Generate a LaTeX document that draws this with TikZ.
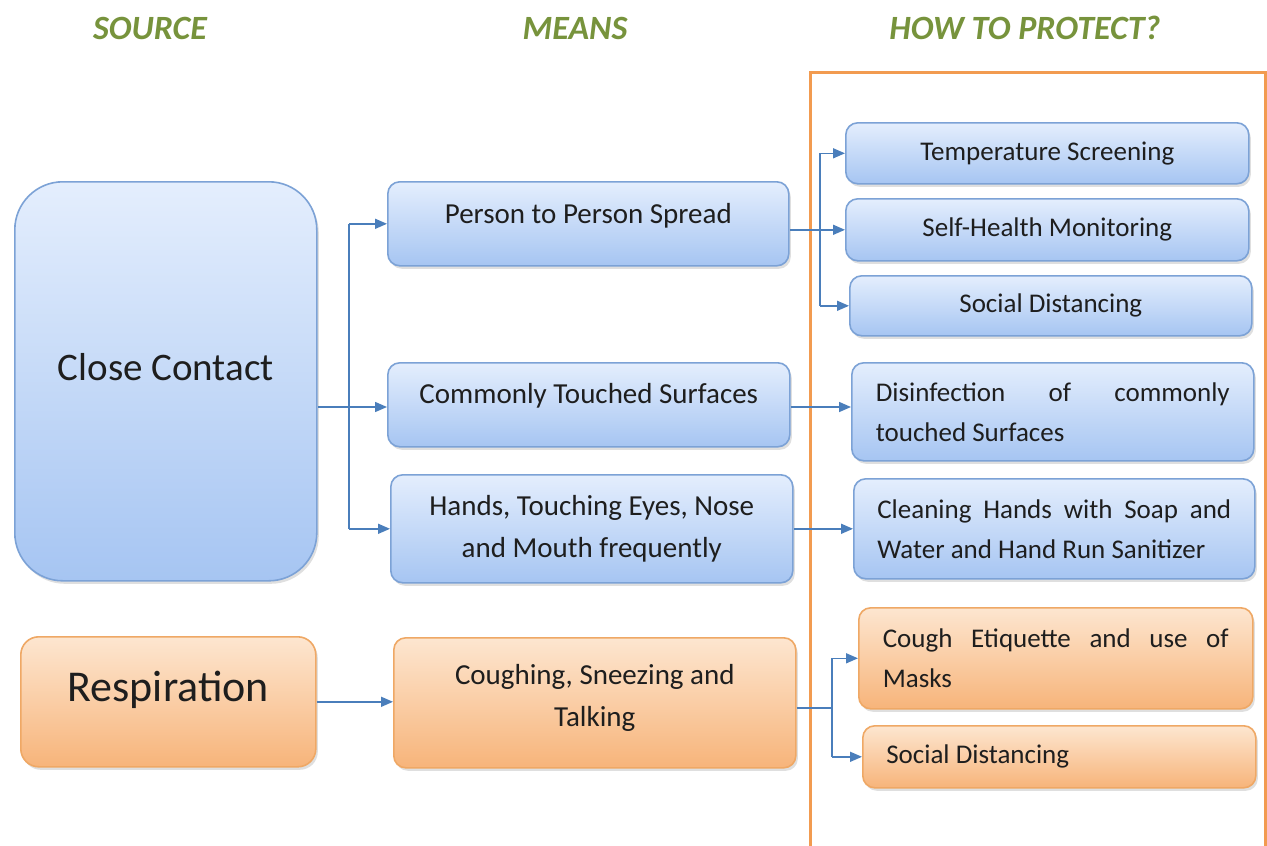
\documentclass[tikz,border=0pt]{standalone}
\usepackage{fontspec}
\setmainfont{Carlito}
\usetikzlibrary{arrows.meta,shadows,calc}
\definecolor{hdr}{HTML}{77933C}
\definecolor{bluetop}{HTML}{E4EEFD}
\definecolor{bluebot}{HTML}{A6C5F2}
\definecolor{blueline}{HTML}{7CA2D6}
\definecolor{ortop}{HTML}{FDE6D0}
\definecolor{orbot}{HTML}{F7B47A}
\definecolor{orline}{HTML}{EFA865}
\definecolor{frame}{HTML}{F29B50}
\definecolor{conncol}{HTML}{4A7EBB}
\definecolor{txt}{HTML}{1E1E1E}
\tikzset{
  hdrtext/.style={font=\fontsize{34}{38}\selectfont\bfseries\itshape, text=hdr},
  basebox/.style={draw, line width=1.6pt, rounded corners=12pt, anchor=north west,
    text=txt, align=center, inner sep=0pt,
    drop shadow={opacity=0.25, shadow xshift=2pt, shadow yshift=-3pt}},
  bluebox/.style={basebox, draw=blueline, top color=bluetop, bottom color=bluebot},
  orbox/.style={basebox, draw=orline, top color=ortop, bottom color=orbot},
  mtext/.style={font=\fontsize{29}{42}\selectfont},
  ptext/.style={font=\fontsize{27}{40}\selectfont},
  conn/.style={draw=conncol, line width=1.5pt, -{Triangle[length=12pt,width=10pt]}},
  plain/.style={draw=conncol, line width=1.5pt},
}
\newcommand{\jbox}[2]{\parbox{#1}{\fontsize{27}{40}\selectfont #2}}
\newcommand{\up}[2]{\raisebox{#1}[\height][\depth]{#2}}
\begin{document}
\begin{tikzpicture}[x=1pt,y=-1pt]
\useasboundingbox[fill=white] (0,0) rectangle (1267,846);
% headers
\node[hdrtext] (hsrc) at (150,28) {SOURCE};
\node[hdrtext] (hmeans) at (575,28) {MEANS};
\node[hdrtext] (hprot) at (1025,28) {HOW TO PROTECT?};
% frame
\draw[frame, line width=3pt] (810,850) -- (810,72) -- (1265,72) -- (1265,850);
% source
\node[bluebox, rounded corners=48pt, minimum width=302pt, minimum height=399pt,
  font=\fontsize{39}{44}\selectfont] (cc) at (14,181) {\up{14pt}{Close Contact}};
\node[orbox, rounded corners=18pt, minimum width=295pt, minimum height=130pt,
  font=\fontsize{44}{48}\selectfont] (resp) at (20,636) {\up{12pt}{Respiration}};
% means
\node[bluebox, mtext, minimum width=401pt, minimum height=84pt] (pps) at (387,181) {\up{8pt}{Person to Person Spread}};
\node[bluebox, mtext, minimum width=402pt, minimum height=84pt] (cts) at (387,362) {\up{9pt}{Commonly Touched Surfaces}};
\node[bluebox, mtext, minimum width=402pt, minimum height=108pt] (hands) at (390,474) {Hands, Touching Eyes, Nose\\and Mouth frequently};
\node[orbox, minimum width=402pt, minimum height=130pt] (cough) at (393,637)
  {\up{5pt}{\parbox{400pt}{\centering\fontsize{29}{42}\selectfont Coughing, Sneezing and\\Talking}}};
% protect
\node[bluebox, ptext, minimum width=403pt, minimum height=61pt] (ts) at (845,122) {Temperature Screening};
\node[bluebox, ptext, minimum width=403pt, minimum height=62pt] (shm) at (845,198) {Self-Health Monitoring};
\node[bluebox, ptext, minimum width=402pt, minimum height=60pt] (sd1) at (849,275) {Social Distancing};
\node[bluebox, minimum width=402pt, minimum height=98pt] (dis) at (851,362)
  {\jbox{354pt}{Disinfection\hfill of\hfill commonly\\touched Surfaces}};
\node[bluebox, minimum width=401pt, minimum height=100pt] (cln) at (853,478)
  {\jbox{354pt}{Cleaning\hfill Hands\hfill with\hfill Soap\hfill and\\Water and Hand Run Sanitizer}};
\node[orbox, minimum width=394pt, minimum height=101pt] (ce) at (858,607)
  {\jbox{346pt}{Cough\hfill Etiquette\hfill and\hfill use\hfill of\\Masks}};
\node[orbox, minimum width=393pt, minimum height=62pt] (sd2) at (862,725)
  {\jbox{346pt}{Social Distancing}};
% connectors source -> means
\coordinate (j1) at (349,407);
\draw[plain] (cc.east |- j1) -- (j1);
\draw[plain] (j1 |- pps.west) -- (j1 |- hands.west);
\draw[conn] (j1 |- pps.west) -- (pps.west);
\draw[conn] (j1) -- (cts.west |- j1);
\draw[conn] (j1 |- hands.west) -- (hands.west);
\draw[conn] (resp.east) -- (cough.west |- resp.east);
% means -> protect
\coordinate (j2) at (820,229);
\draw[plain] (j2 |- ts.west) -- (j2 |- sd1.west);
\draw[conn] (pps.east |- shm.west) -- (shm.west);
\draw[conn] (j2 |- ts.west) -- (ts.west);
\draw[conn] (j2 |- sd1.west) -- (sd1.west);
\draw[conn] (cts.east |- j1) -- (dis.west |- j1);
\draw[conn] (hands.east) -- (cln.west |- hands.east);
\coordinate (j3) at (832,708);
\draw[plain] (cough.east |- j3) -- (j3);
\draw[plain] (j3 |- ce.west) -- (j3 |- sd2.west);
\draw[conn] (j3 |- ce.west) -- (ce.west);
\draw[conn] (j3 |- sd2.west) -- (sd2.west);
\end{tikzpicture}
\end{document}
